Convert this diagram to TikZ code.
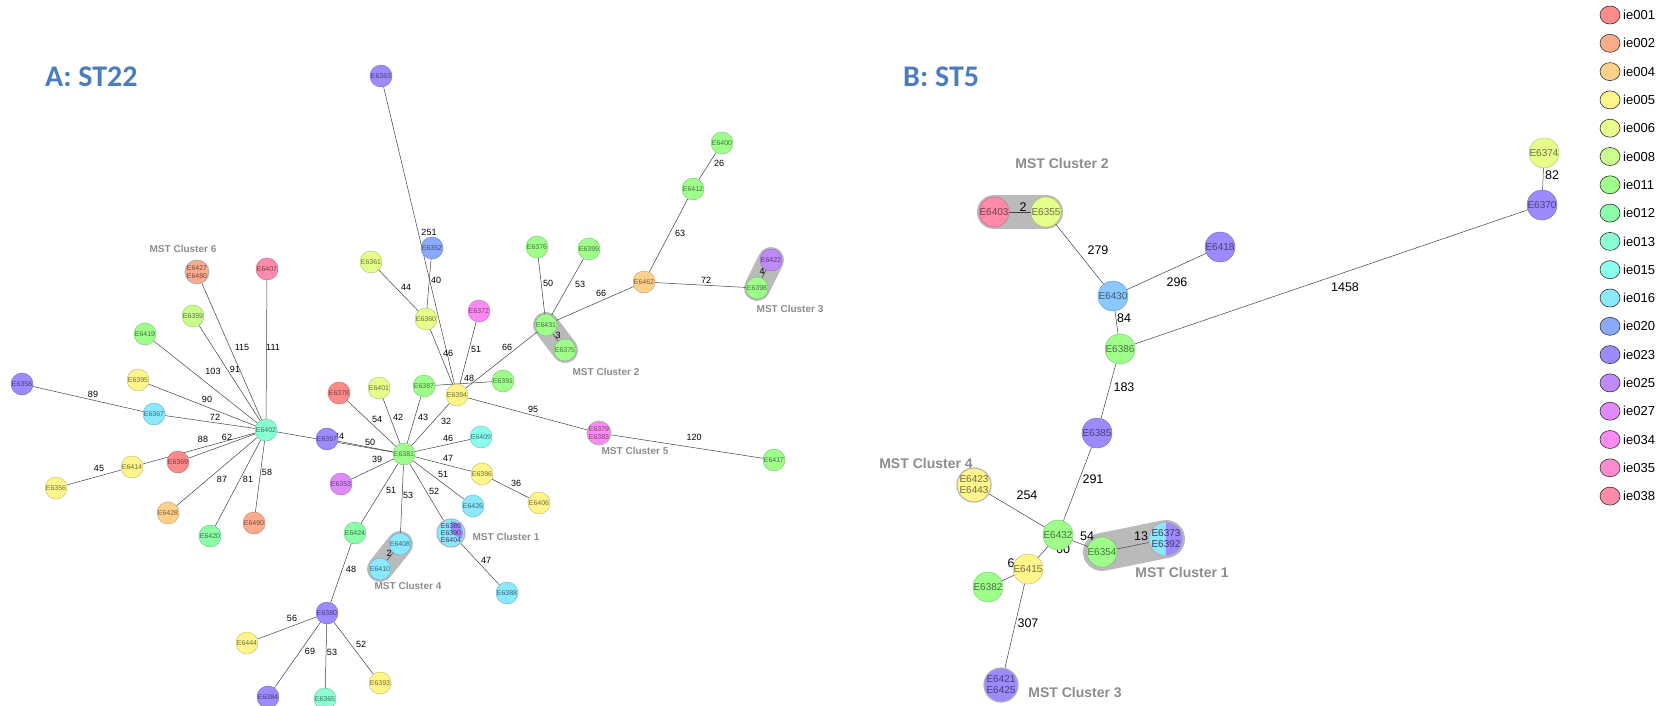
\documentclass[tikz,border=0pt]{standalone}
\usepackage{fontspec}
\setmainfont{Liberation Sans}
\newfontfamily\titlefont{Carlito}
\usepackage{xcolor}
\usepackage{tikz}
\usetikzlibrary{backgrounds,shapes.geometric}

% ST colours (legend)
\definecolor{ie001}{HTML}{FF8A8A}
\definecolor{ie002}{HTML}{FFAA8A}
\definecolor{ie004}{HTML}{FFD08A}
\definecolor{ie005}{HTML}{FFF58A}
\definecolor{ie006}{HTML}{E5FF8A}
\definecolor{ie008}{HTML}{C8FF8A}
\definecolor{ie011}{HTML}{9EFF8A}
\definecolor{ie012}{HTML}{8AFFA8}
\definecolor{ie013}{HTML}{8AFFD2}
\definecolor{ie015}{HTML}{8AFFF0}
\definecolor{ie016}{HTML}{8AE8FF}
\definecolor{ie020}{HTML}{8AAAFF}
\definecolor{ie023}{HTML}{9E8AFF}
\definecolor{ie025}{HTML}{C08AFF}
\definecolor{ie027}{HTML}{E08AFF}
\definecolor{ie034}{HTML}{FF8AF5}
\definecolor{ie035}{HTML}{FF8AD0}
\definecolor{ie038}{HTML}{FF8AAA}
\definecolor{titleblue}{HTML}{4A7DBF}

\tikzset{
  iso/.style={circle, draw=#1!75!black, line width=0.4pt, fill=#1, text=#1!45!black, inner sep=0pt, minimum size=22pt, align=center, font=\fontsize{7}{7.5}\selectfont},
  isoB/.style={iso=#1, minimum size=30pt, font=\fontsize{10}{11}\selectfont},
  merged/.style={draw=black!30, line width=1.1pt},
  link/.style={draw=black!75, line width=0.5pt},
  band/.style={line width=#1, line cap=round, draw=black!27},
  wA/.style={font=\fontsize{9}{9}\selectfont, inner sep=0pt},
  wB/.style={font=\fontsize{12.5}{12.5}\selectfont, inner sep=0pt},
  clA/.style={text=black!45, font=\bfseries\fontsize{10}{10}\selectfont},
  clB/.style={text=black!45, font=\bfseries\fontsize{14}{14}\selectfont}
}

\begin{document}
\begin{tikzpicture}[
    x=1pt, y=-1pt,
    title/.style={text=titleblue, anchor=west, inner sep=0pt, font=\titlefont\bfseries\fontsize{30}{30}\selectfont},
    legdot/.style={ellipse, draw=black!80, line width=0.6pt, minimum width=20pt, minimum height=18pt, inner sep=0pt},
    legtext/.style={anchor=west, inner sep=0pt, font=\fontsize{13}{13}\selectfont}
]
\useasboundingbox (0,0) rectangle (1669,706);

% 1. Titles
\node[title] (titleA) at (45,77) {A: ST22};
\node[title] (titleB) at (903,77) {B: ST5};

% 2. Tree A (ST22)
\node[iso=ie002, merged] (e6427) at (197,272) {E6427\\E6480};
\node[iso=ie038] (e6407) at (267,269) {E6407};
\node[iso=ie008] (e6359) at (193,316) {E6359};
\node[iso=ie011] (e6419) at (145,334) {E6419};
\node[iso=ie005] (e6395) at (138,380) {E6395};
\node[iso=ie023] (e6358) at (22,384) {E6358};
\node[iso=ie016] (e6367) at (154,414) {E6367};
\node[iso=ie013] (e6402) at (266,430) {E6402};
\node[iso=ie001] (e6369) at (178,462) {E6369};
\node[iso=ie005] (e6414) at (132,467) {E6414};
\node[iso=ie005] (e6356) at (56,488) {E6356};
\node[iso=ie004] (e6428) at (168,513) {E6428};
\node[iso=ie012] (e6420) at (210,536) {E6420};
\node[iso=ie002] (e6490) at (254,523) {E6490};
\node[iso=ie023] (e6397) at (327,439) {E6397};
\node[iso=ie001] (e6378) at (339,393) {E6378};
\node[iso=ie006] (e6401) at (379,388) {E6401};
\node[iso=ie011] (e6387) at (424,386) {E6387};
\node[iso=ie005] (e6394) at (457,395) {E6394};
\node[iso=ie011] (e6391) at (503,381) {E6391};
\node[iso=ie011] (e6381) at (404,454) {E6381};
\node[iso=ie015] (e6409) at (481,437) {E6409};
\node[iso=ie005] (e6396) at (482,474) {E6396};
\node[iso=ie005] (e6406) at (539,503) {E6406};
\node[iso=ie027] (e6353) at (341,484) {E6353};
\node[iso=ie016] (e6426) at (473,506) {E6426};
\node[iso=ie012] (e6424) at (355,533) {E6424};
\node[iso=ie016] (e6408) at (400,544) {E6408};
\node[iso=ie016] (e6410) at (380,569) {E6410};
\node[iso=ie016, merged, text=ie023!40!black, font=\fontsize{7}{7.2}\selectfont,
      path picture={\fill[ie023] (path picture bounding box.center) -- ++(0,12pt) arc[start angle=90, end angle=-30, radius=12pt] -- cycle;}]
      (e6389) at (451,533) {E6389\\E6390\\E6404};
\node[iso=ie016] (e6388) at (507,593) {E6388};
\node[iso=ie023] (e6380) at (327,613) {E6380};
\node[iso=ie005] (e6444) at (247,643) {E6444};
\node[iso=ie023] (e6384) at (268,697) {E6384};
\node[iso=ie013] (e6365) at (325,699) {E6365};
\node[iso=ie005] (e6393) at (380,683) {E6393};
\node[iso=ie023] (e6363) at (381,76) {E6363};
\node[iso=ie020] (e6352) at (432,248) {E6352};
\node[iso=ie006] (e6361) at (371,262) {E6361};
\node[iso=ie006] (e6360) at (426,319) {E6360};
\node[iso=ie034] (e6372) at (479,311) {E6372};
\node[iso=ie011] (e6376) at (537,247) {E6376};
\node[iso=ie011] (e6399) at (589,249) {E6399};
\node[iso=ie011] (e6431) at (546,325) {E6431};
\node[iso=ie011] (e6375) at (565,350) {E6375};
\node[iso=ie004] (e6462) at (644,282) {E6462};
\node[iso=ie011] (e6412) at (693,189) {E6412};
\node[iso=ie011] (e6400) at (722,143) {E6400};
\node[iso=ie025] (e6422) at (771,260) {E6422};
\node[iso=ie011] (e6398) at (757,288) {E6398};
\node[iso=ie034, merged] (e6379) at (599,433) {E6379\\E6383};
\node[iso=ie011] (e6417) at (774,460) {E6417};

% cluster names A
\node[clA] (mst6a) at (183,249) {MST Cluster 6};
\node[clA] (mst2a) at (606,372) {MST Cluster 2};
\node[clA] (mst3a) at (790,309) {MST Cluster 3};
\node[clA] (mst5a) at (635,451) {MST Cluster 5};
\node[clA] (mst1a) at (506,537) {MST Cluster 1};
\node[clA] (mst4a) at (408,586) {MST Cluster 4};

% 3. Tree B (ST5)
\node[isoB=ie038] (e6403) at (994,212) {E6403};
\node[isoB=ie006] (e6355) at (1046,212) {E6355};
\node[isoB=ie023] (e6418) at (1220,247) {E6418};
\node[isoB=ie016!50!ie020] (e6430) at (1113,296) {E6430};
\node[isoB=ie011] (e6386) at (1120,349) {E6386};
\node[isoB=ie006] (e6374) at (1544,153) {E6374};
\node[isoB=ie023] (e6370) at (1542,205) {E6370};
\node[isoB=ie023] (e6385) at (1097,433) {E6385};
\node[isoB=ie005, merged] (e6423) at (974,485) {E6423\\E6443};
\node[isoB=ie011] (e6432) at (1058,535) {E6432};
\node[isoB=ie011] (e6354) at (1102,552) {E6354};
\node[isoB=ie016, merged, text=ie023!40!black,
      path picture={\fill[ie023] (path picture bounding box.north) rectangle (path picture bounding box.south east);}]
      (e6373) at (1166,539) {E6373\\E6392};
\node[isoB=ie005] (e6415) at (1028,569) {E6415};
\node[isoB=ie011] (e6382) at (988,587) {E6382};
\node[isoB=ie023, merged] (e6421) at (1001,685) {E6421\\E6425};

% cluster names B
\node[clB] (mst2b) at (1062,163) {MST Cluster 2};
\node[clB] (mst4b) at (926,463) {MST Cluster 4};
\node[clB] (mst1b) at (1182,572) {MST Cluster 1};
\node[clB] (mst3b) at (1075,692) {MST Cluster 3};

% 4. Legend
\foreach \st [count=\i from 0] in {ie001,ie002,ie004,ie005,ie006,ie008,ie011,ie012,ie013,ie015,ie016,ie020,ie023,ie025,ie027,ie034,ie035,ie038} {
  \node[legdot, fill=\st] (leg\i) at (1610,15+28.3*\i) {};
  \node[legtext] (legt\i) at (1623,15+28.3*\i) {\st};
}

% 5. Cluster bands, links and distances (behind the isolates)
\begin{scope}[on background layer]
\draw[band=26pt] (e6408.center) -- (e6410.center);
\draw[band=26pt] (e6431.center) -- (e6375.center);
\draw[band=26pt] (e6422.center) -- (e6398.center);
\draw[band=34pt] (e6403.center) -- (e6355.center);
\draw[band=38pt] (e6354.center) -- (e6373.center);

\draw[link] (e6358) -- (e6367) node[wA] (w1) at (93,394) {89};
\draw[link] (e6367) -- (e6402) node[wA] (w2) at (215,417) {72};
\draw[link] (e6395) -- (e6402) node[wA] (w3) at (207,399) {90};
\draw[link] (e6419) -- (e6402) node[wA] (w4) at (213,371) {103};
\draw[link] (e6359) -- (e6402) node[wA] (w5) at (235,369) {91};
\draw[link] (e6427) -- (e6402) node[wA] (w6) at (242,347) {115};
\draw[link] (e6407) -- (e6402) node[wA] (w7) at (273,347) {111};
\draw[link] (e6414) -- (e6402) node[wA] (w8) at (203,439) {88};
\draw[link] (e6369) -- (e6402) node[wA] (w9) at (227,437) {62};
\draw[link] (e6356) -- (e6414) node[wA] (w10) at (99,468) {45};
\draw[link] (e6428) -- (e6402) node[wA] (w11) at (222,479) {87};
\draw[link] (e6420) -- (e6402) node[wA] (w12) at (248,479) {81};
\draw[link] (e6490) -- (e6402) node[wA] (w13) at (267,472) {58};
\draw[link] (e6402) -- (e6381) node[wA] (w14) at (339,436) {34};
\draw[link] (e6397) -- (e6381) node[wA] (w15) at (370,442) {50};
\draw[link] (e6378) -- (e6381) node[wA] (w16) at (377,419) {54};
\draw[link] (e6401) -- (e6381) node[wA] (w17) at (398,417) {42};
\draw[link] (e6387) -- (e6381) node[wA] (w18) at (423,417) {43};
\draw[link] (e6394) -- (e6381) node[wA] (w19) at (446,421) {32};
\draw[link] (e6387) -- (e6391) node[wA] (w20) at (469,378) {48};
\draw[link] (e6409) -- (e6381) node[wA] (w21) at (448,438) {46};
\draw[link] (e6396) -- (e6381) node[wA] (w22) at (448,458) {47};
\draw[link] (e6396) -- (e6406) node[wA] (w23) at (516,483) {36};
\draw[link] (e6426) -- (e6381) node[wA] (w24) at (443,474) {51};
\draw[link] (e6353) -- (e6381) node[wA] (w25) at (377,459) {39};
\draw[link] (e6424) -- (e6381) node[wA] (w26) at (391,490) {51};
\draw[link] (e6408) -- (e6381) node[wA] (w27) at (408,495) {53};
\draw[link] (e6408) -- (e6410) node[wA] (w28) at (389,553) {2};
\draw[link] (e6389) -- (e6381) node[wA] (w29) at (434,491) {52};
\draw[link] (e6389) -- (e6388) node[wA] (w30) at (486,560) {47};
\draw[link] (e6424) -- (e6380) node[wA] (w31) at (351,569) {48};
\draw[link] (e6380) -- (e6444) node[wA] (w32) at (292,618) {56};
\draw[link] (e6380) -- (e6384) node[wA] (w33) at (310,651) {69};
\draw[link] (e6380) -- (e6365) node[wA] (w34) at (332,652) {53};
\draw[link] (e6380) -- (e6393) node[wA] (w35) at (361,644) {52};
\draw[link] (e6394) -- (e6379) node[wA] (w36) at (533,409) {95};
\draw[link] (e6379) -- (e6417) node[wA] (w37) at (694,437) {120};
\draw[link] (e6363) -- (e6394) node[wA] (w38) at (429,232) {251};
\draw[link] (e6352) -- (e6360) node[wA] (w39) at (436,280) {40};
\draw[link] (e6361) -- (e6360) node[wA] (w40) at (406,287) {44};
\draw[link] (e6360) -- (e6394) node[wA] (w41) at (448,353) {46};
\draw[link] (e6372) -- (e6394) node[wA] (w42) at (476,349) {51};
\draw[link] (e6431) -- (e6394) node[wA] (w43) at (507,347) {66};
\draw[link] (e6376) -- (e6431) node[wA] (w44) at (548,283) {50};
\draw[link] (e6399) -- (e6431) node[wA] (w45) at (580,284) {53};
\draw[link] (e6431) -- (e6462) node[wA] (w46) at (601,293) {66};
\draw[link] (e6462) -- (e6412) node[wA] (w47) at (680,233) {63};
\draw[link] (e6412) -- (e6400) node[wA] (w48) at (719,163) {26};
\draw[link] (e6462) -- (e6398) node[wA] (w49) at (706,280) {72};
\draw[link] (e6398) -- (e6422) node[wA] (w50) at (762,271) {4};
\draw[link] (e6431) -- (e6375) node[wA] (w51) at (558,335) {3};

\draw[link] (e6403) -- (e6355) node[wB] (v1) at (1023,207) {2};
\draw[link] (e6355) -- (e6430) node[wB] (v2) at (1098,250) {279};
\draw[link] (e6430) -- (e6418) node[wB] (v3) at (1177,282) {296};
\draw[link] (e6430) -- (e6386) node[wB] (v4) at (1124,318) {84};
\draw[link] (e6386) -- (e6370) node[wB] (v5) at (1345,287) {1458};
\draw[link] (e6370) -- (e6374) node[wB] (v6) at (1552,175) {82};
\draw[link] (e6386) -- (e6385) node[wB] (v7) at (1124,387) {183};
\draw[link] (e6385) -- (e6432) node[wB] (v8) at (1093,479) {291};
\draw[link] (e6423) -- (e6432) node[wB] (v9) at (1027,495) {254};
\draw[link] (e6432) -- (e6354) node[wB] (v10) at (1087,536) {54};
\draw[link] (e6354) -- (e6373) node[wB] (v11) at (1141,536) {13};
\draw[link] (e6432) -- (e6415) node[wB] (v12) at (1063,549) {60};
\draw[link] (e6415) -- (e6382) node[wB] (v13) at (1011,563) {6};
\draw[link] (e6415) -- (e6421) node[wB] (v14) at (1028,623) {307};
\end{scope}

\end{tikzpicture}
\end{document}
